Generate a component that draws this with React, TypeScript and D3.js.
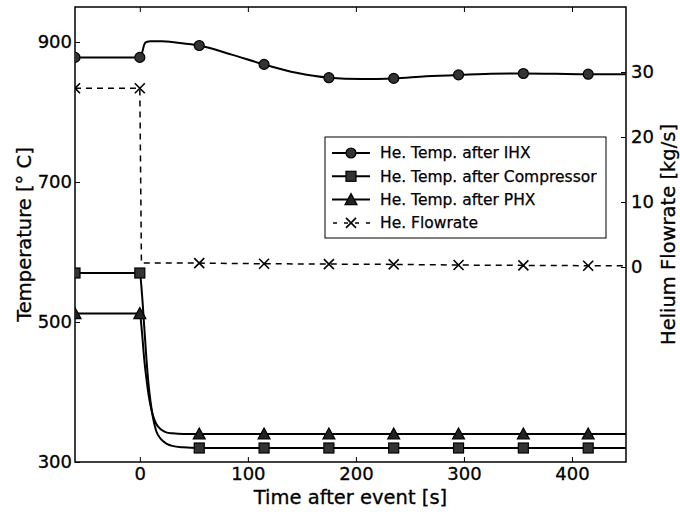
import React, { useEffect, useRef } from "react";
import * as d3 from "d3";

// time axis ticks and marker positions
const xTicks = [0, 100, 200, 300, 400];
const tempTicks = [300, 500, 700, 900];
const flowTicks = [0, 10, 20, 30];
const markTimes = [-60, 0, 55, 115, 175, 235, 295, 355, 415];

// He. Temp. after IHX
const timeIHX = [-60, 0, 2, 4, 6, 10, 20, 35, 55, 85, 115, 145, 175, 205, 235, 265, 295, 325, 355, 385, 415, 450];
const tempIHX = [878, 878, 884, 896, 900, 901, 901, 899, 895, 882, 868, 856, 849, 847, 848, 851, 853, 854.5, 855, 854.5, 854, 854];

// Compressor / PHX share the same times
const timeLow = [-60, 0, 2, 4, 6, 8, 10, 12, 15, 20, 25, 30, 40, 55, 115, 175, 235, 295, 355, 415, 450];
const tempComp = [570, 570, 540, 495, 450, 412, 385, 365, 345, 332, 326, 323, 321, 320, 320, 320, 320, 320, 320, 320, 320];
const tempPHX = [512, 512, 485, 448, 420, 397, 380, 367, 355, 346, 342, 341, 340, 340, 340, 340, 340, 340, 340, 340, 340];

// He. Flowrate [kg/s]
const timeFlow = [-60, 0, 1.5, 55, 115, 175, 235, 295, 355, 415, 450];
const flow = [27.5, 27.5, 0.6, 0.6, 0.5, 0.45, 0.4, 0.3, 0.25, 0.2, 0.2];

const legendLabels = [
  "He. Temp. after IHX",
  "He. Temp. after Compressor",
  "He. Temp. after PHX",
  "He. Flowrate",
];

const FONT = "DejaVu Sans, sans-serif";

type Pt = [number, number];

const App = () => {
  const svgRef = useRef<SVGSVGElement>(null);

  useEffect(() => {
    const W = 680;
    const H = 512;
    const left = 75;
    const right = 626;
    const top = 7;
    const bottom = 462;

    const svg = d3.select(svgRef.current);
    svg.selectAll("*").remove();
    svg.attr("width", W).attr("height", H);

    const x = d3.scaleLinear().domain([-60, 450]).range([left, right]);
    const yT = d3.scaleLinear().domain([300, 950]).range([bottom, top]);
    const yF = d3.scaleLinear().domain([-30, 40]).range([bottom, top]);

    svg.append("defs")
      .append("clipPath")
      .attr("id", "plot")
      .append("rect")
      .attr("x", left)
      .attr("y", top)
      .attr("width", right - left)
      .attr("height", bottom - top);

    // axes (inward ticks)
    const styleAxis = (g: any) => {
      g.select(".domain").remove();
      g.selectAll("line").attr("stroke", "#000").attr("stroke-width", 1);
      g.selectAll("text")
        .attr("font-family", FONT)
        .attr("font-size", 18)
        .attr("fill", "#000")
        .attr("stroke", "#000")
        .attr("stroke-width", 0.3);
    };

    svg.append("g")
      .attr("transform", `translate(0,${bottom})`)
      .call(d3.axisBottom(x).tickValues(xTicks).tickSizeInner(-5).tickSizeOuter(0).tickPadding(5))
      .call(styleAxis);
    svg.append("g")
      .attr("transform", `translate(0,${top})`)
      .call(d3.axisTop(x).tickValues(xTicks).tickSizeInner(-5).tickSizeOuter(0).tickFormat(() => ""))
      .call(styleAxis);
    svg.append("g")
      .attr("transform", `translate(${left},0)`)
      .call(d3.axisLeft(yT).tickValues(tempTicks).tickSizeInner(-5).tickSizeOuter(0).tickPadding(3))
      .call(styleAxis);
    svg.append("g")
      .attr("transform", `translate(${right},0)`)
      .call(d3.axisRight(yF).tickValues(flowTicks).tickSizeInner(-5).tickSizeOuter(0).tickPadding(5))
      .call(styleAxis);

    // frame
    svg.append("rect")
      .attr("x", left)
      .attr("y", top)
      .attr("width", right - left)
      .attr("height", bottom - top)
      .attr("fill", "none")
      .attr("stroke", "#000")
      .attr("stroke-width", 1.5);

    // axis labels
    const label = (tr: string, txt: string) =>
      svg.append("text")
        .attr("transform", tr)
        .attr("text-anchor", "middle")
        .attr("font-family", FONT)
        .attr("font-size", 19.5)
        .attr("stroke", "#000")
        .attr("stroke-width", 0.3)
        .text(txt);
    label(`translate(${(left + right) / 2},504)`, "Time after event [s]");
    label(`translate(31,${(top + bottom) / 2}) rotate(-90)`, "Temperature [° C]");
    label(`translate(675,${(top + bottom) / 2}) rotate(-90)`, "Helium Flowrate [kg/s]");

    const plot = svg.append("g").attr("clip-path", "url(#plot)");

    const zip = (ts: number[], vs: number[]): Pt[] => ts.map((t, i) => [t, vs[i]]);
    const ihx = zip(timeIHX, tempIHX);
    const comp = zip(timeLow, tempComp);
    const phx = zip(timeLow, tempPHX);
    const fl = zip(timeFlow, flow);

    const lineT = d3.line<Pt>()
      .x((d) => x(d[0]))
      .y((d) => yT(d[1]))
      .curve(d3.curveMonotoneX);
    const lineF = d3.line<Pt>()
      .x((d) => x(d[0]))
      .y((d) => yF(d[1]));

    // markers
    const circle = (g: any, cx: number, cy: number) =>
      g.append("circle").attr("cx", cx).attr("cy", cy).attr("r", 5)
        .attr("fill", "#333").attr("stroke", "#000").attr("stroke-width", 1.2);
    const square = (g: any, cx: number, cy: number) =>
      g.append("rect").attr("x", cx - 5).attr("y", cy - 5).attr("width", 10).attr("height", 10)
        .attr("fill", "#333").attr("stroke", "#000").attr("stroke-width", 1.2);
    const triangle = (g: any, cx: number, cy: number) =>
      g.append("path")
        .attr("d", `M${cx},${cy - 6}L${cx + 6},${cy + 5}L${cx - 6},${cy + 5}Z`)
        .attr("fill", "#222").attr("stroke", "#000").attr("stroke-width", 1.2);
    const cross = (g: any, cx: number, cy: number) =>
      g.append("path")
        .attr("d", `M${cx - 5},${cy - 5}L${cx + 5},${cy + 5}M${cx - 5},${cy + 5}L${cx + 5},${cy - 5}`)
        .attr("fill", "none").attr("stroke", "#000").attr("stroke-width", 1.6);

    // flowrate (dashed)
    plot.append("path")
      .datum(fl)
      .attr("d", lineF)
      .attr("fill", "none")
      .attr("stroke", "#000")
      .attr("stroke-width", 1.5)
      .attr("stroke-dasharray", "6,5");

    const series: [Pt[], typeof circle][] = [
      [ihx, circle],
      [comp, square],
      [phx, triangle],
    ];
    series.forEach(([data]) => {
      plot.append("path")
        .datum(data)
        .attr("d", lineT)
        .attr("fill", "none")
        .attr("stroke", "#000")
        .attr("stroke-width", 2);
    });
    series.forEach(([data, mark]) => {
      data.filter((d) => markTimes.includes(d[0]))
        .forEach((d) => mark(plot, x(d[0]), yT(d[1])));
    });
    fl.filter((d) => markTimes.includes(d[0]))
      .forEach((d) => cross(plot, x(d[0]), yF(d[1])));

    // legend
    const lg = svg.append("g");
    lg.append("rect")
      .attr("x", 325)
      .attr("y", 137)
      .attr("width", 281)
      .attr("height", 101)
      .attr("fill", "#fff")
      .attr("stroke", "#000")
      .attr("stroke-width", 1);
    const marks = [circle, square, triangle, cross];
    legendLabels.forEach((txt, i) => {
      const cy = 153 + i * 23.3;
      const ln = lg.append("line")
        .attr("x1", 332)
        .attr("x2", 370)
        .attr("y1", cy)
        .attr("y2", cy)
        .attr("stroke", "#000");
      if (i === 3) {
        ln.attr("stroke-width", 1.5).attr("stroke-dasharray", "4,7").attr("stroke-dashoffset", -1);
      } else {
        ln.attr("stroke-width", 2);
      }
      marks[i](lg, 351, cy);
      lg.append("text")
        .attr("x", 380)
        .attr("y", cy)
        .attr("dy", "0.35em")
        .attr("font-family", FONT)
        .attr("font-size", 15.5)
        .attr("stroke", "#000")
        .attr("stroke-width", 0.25)
        .text(txt);
    });
  }, []);

  return (
    <svg
      ref={svgRef}
      style={{ position: "absolute", left: 0, top: 0, background: "#fff" }}
    ></svg>
  );
};

export default App;
